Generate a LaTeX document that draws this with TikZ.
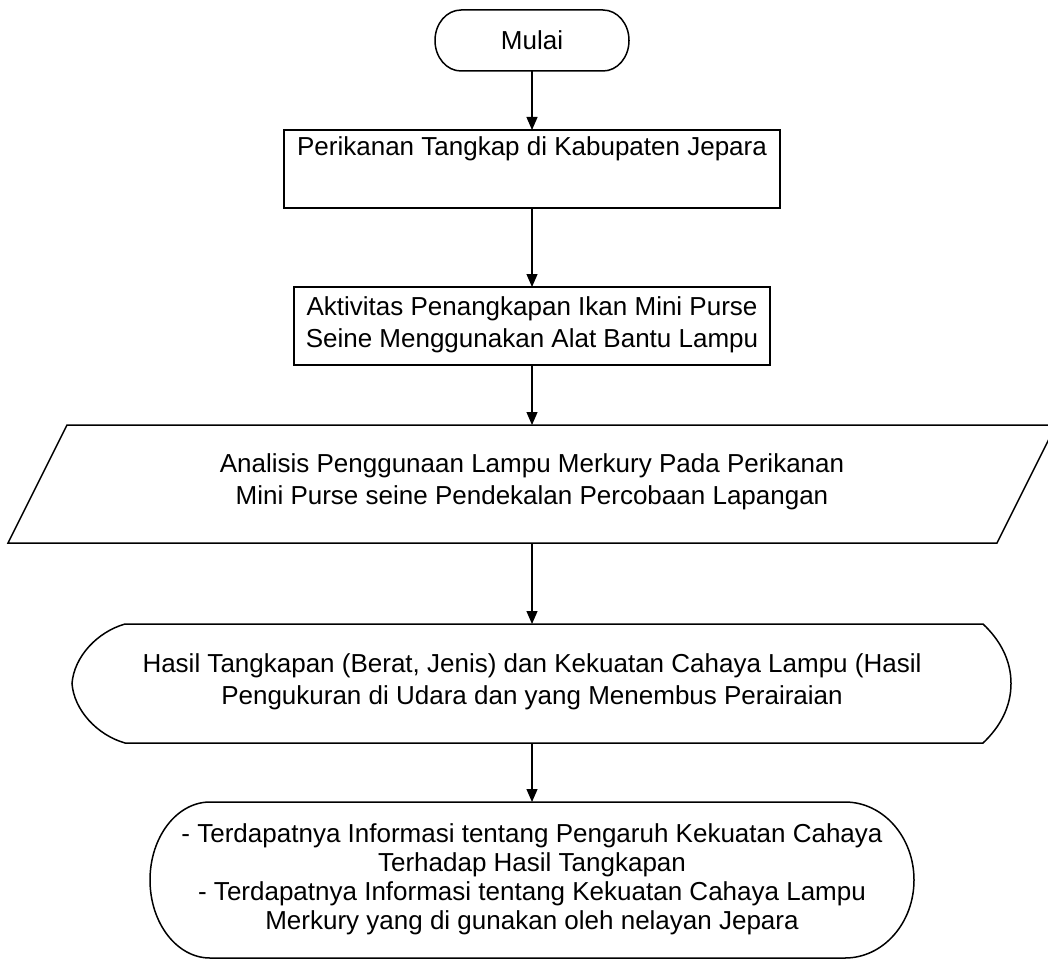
\documentclass[tikz,border=0pt]{standalone}
\usepackage{fontspec}
\setmainfont{Liberation Sans}
\usetikzlibrary{arrows.meta}
\begin{document}
\begin{tikzpicture}[x=1pt,y=-1pt,
  shapeline/.style={draw=black,line width=1.5pt,fill=white},
  label/.style={font=\fontsize{26pt}{32pt}\selectfont,align=center,inner sep=0pt},
  flow/.style={draw=black,line width=1.2pt,-{Triangle[length=13pt,width=11pt]}}]
\useasboundingbox (0,0) rectangle (1048,960);
% Mulai
\draw[shapeline] (461,10) -- (603,10) .. controls (617.4,10) and (629,23.6) .. (629,40.5)
  .. controls (629,57.4) and (617.4,71) .. (603,71) -- (461,71)
  .. controls (446.6,71) and (435,57.4) .. (435,40.5)
  .. controls (435,23.6) and (446.6,10) .. (461,10) -- cycle;
\node[label] (mulai) at (532,40.5) {Mulai};
\coordinate (mulaiB) at (532,71);
% Perikanan
\draw[shapeline] (284,130) rectangle (780,208);
\node[label] (per) at (532,149) {Perikanan Tangkap di Kabupaten Jepara};
\coordinate (perT) at (532,130);
\coordinate (perB) at (532,208);
% Aktivitas
\draw[shapeline] (294,287) rectangle (770,365);
\node[label] (akt) at (532,325) {Aktivitas Penangkapan Ikan Mini Purse\\Seine Menggunakan Alat Bantu Lampu};
\coordinate (aktT) at (532,287);
\coordinate (aktB) at (532,365);
% Parallelogram
\draw[shapeline] (67,425) -- (1056,425) -- (997,543) -- (8,543) -- cycle;
\node[label] (ana) at (532,482) {Analisis Penggunaan Lampu Merkury P\raisebox{0pt}{a}da Perikanan\\Mini Purse seine Pendekalan Percobaan Lapangan};
\coordinate (parT) at (532,425);
\coordinate (parB) at (532,543);
% Display
\draw[shapeline] (125,624) -- (983,624)
  .. controls (1000,640) and (1011,660) .. (1011,683.5)
  .. controls (1011,707) and (1000,727) .. (983,743) -- (125,743)
  .. controls (97,735) and (74,710) .. (72,683.5)
  .. controls (74,657) and (97,632) .. (125,624) -- cycle;
\node[label] (has) at (532,682) {Hasil Tangkapan (Berat, Jenis) dan Kekuatan Cahaya Lampu (Hasil\\Pengukuran di Udara dan yang Menembus Perairaian};
\coordinate (disT) at (532,624);
\coordinate (disB) at (532,743);
% Terminal end
\draw[shapeline] (210,802) -- (845,802) .. controls (883.1,802) and (914,836.9) .. (914,880)
  .. controls (914,923.1) and (883.1,958) .. (845,958) -- (210,958)
  .. controls (176.9,958) and (150,923.1) .. (150,880)
  .. controls (150,836.9) and (176.9,802) .. (210,802) -- cycle;
\node[label,font=\fontsize{26pt}{29pt}\selectfont] (ter) at (532,879) {- Terdapatnya Informasi tentang Pengaruh Kekuatan Cahaya\\Terhadap Hasil Tangkapan\\- Terdapatnya Informasi tentang Kekuatan Cahaya Lampu\\Merkury yang di gunakan oleh nelayan Jepara};
\coordinate (terT) at (532,802);
% connectors
\draw[flow] (mulaiB) -- (perT);
\draw[flow] (perB) -- (aktT);
\draw[flow] (aktB) -- (parT);
\draw[flow] (parB) -- (disT);
\draw[flow] (disB) -- (terT);
\end{tikzpicture}
\end{document}
